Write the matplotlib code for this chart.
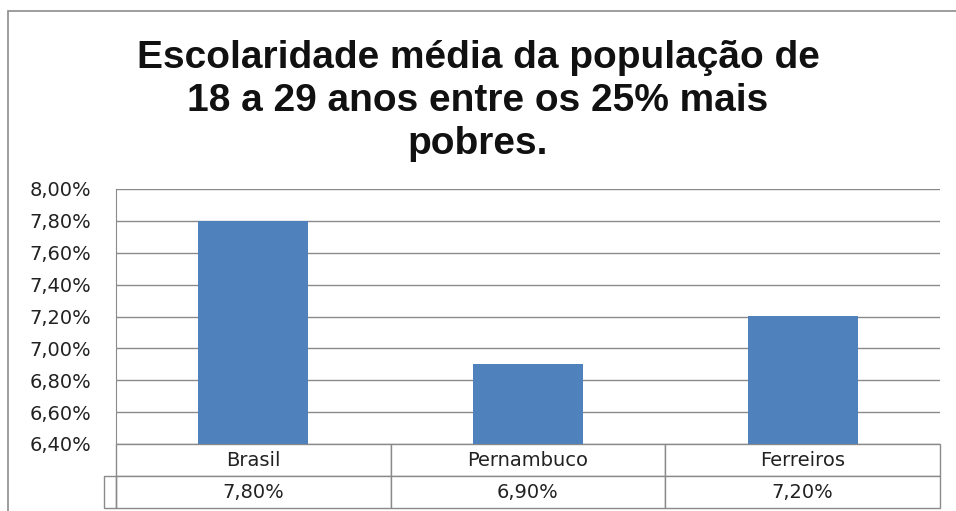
import matplotlib
matplotlib.use("Agg")
import matplotlib.pyplot as plt
from matplotlib.patches import Rectangle

# dados
categorias = ["Brasil", "Pernambuco", "Ferreiros"]
valores = [7.80, 6.90, 7.20]
yticks = [6.40, 6.60, 6.80, 7.00, 7.20, 7.40, 7.60, 7.80, 8.00]
titulo = "Escolaridade média da população de\n18 a 29 anos entre os 25% mais\npobres."

def pct(v):
    return f"{v:.2f}%".replace(".", ",")

fig = plt.figure(figsize=(9.56, 5.11), dpi=100)
fig.patch.set_facecolor("white")

# moldura externa do gráfico
fig.patches.append(Rectangle((8 / 956, -0.05), 1.1, 1 - 11 / 511 + 0.05,
                             transform=fig.transFigure, fill=False,
                             edgecolor="#8c8c8c", linewidth=1.2))

ax = fig.add_axes([116 / 956, 1 - 444 / 511, 824 / 956, 255 / 511])
x = list(range(len(categorias)))
ax.bar(x, [v - yticks[0] for v in valores], bottom=yticks[0], width=0.4,
       color="#4f81bd", zorder=3)
ax.set_xlim(-0.5, len(categorias) - 0.5)
ax.set_ylim(yticks[0], yticks[-1])
ax.set_yticks(yticks)
ax.set_yticklabels([pct(v) for v in yticks], fontsize=14, color="#222222",
                   family="DejaVu Sans")
ax.set_xticks([])
ax.yaxis.grid(True, color="#8a8a8a", linewidth=1.0, zorder=0)
ax.tick_params(axis="y", length=0, pad=18)
for s in ["top", "right", "bottom"]:
    ax.spines[s].set_visible(False)
ax.spines["left"].set_color("#8a8a8a")

# tabela de dados
h = 32 / 255
tab = ax.table(cellText=[[pct(v) for v in valores]], colLabels=categorias,
               cellLoc="center", bbox=[0, -2 * h, 1, 2 * h])
tab.auto_set_font_size(False)
for (r, c), cell in tab.get_celld().items():
    cell.set_edgecolor("#8a8a8a")
    cell.set_linewidth(1.0)
    cell.get_text().set_fontsize(14)
    cell.get_text().set_family("DejaVu Sans")
    cell.get_text().set_color("#222222")
ax.add_patch(Rectangle((-12 / 824, -2 * h), 12 / 824, h, transform=ax.transAxes,
                       fill=False, edgecolor="#8a8a8a", linewidth=1.0,
                       clip_on=False))

fig.text(478 / 956, 1 - 101 / 511, titulo, ha="center", va="center",
         fontsize=28, fontweight="bold", family="Liberation Sans",
         linespacing=1.25, color="#111111")

fig.savefig("out.png", dpi=100)
